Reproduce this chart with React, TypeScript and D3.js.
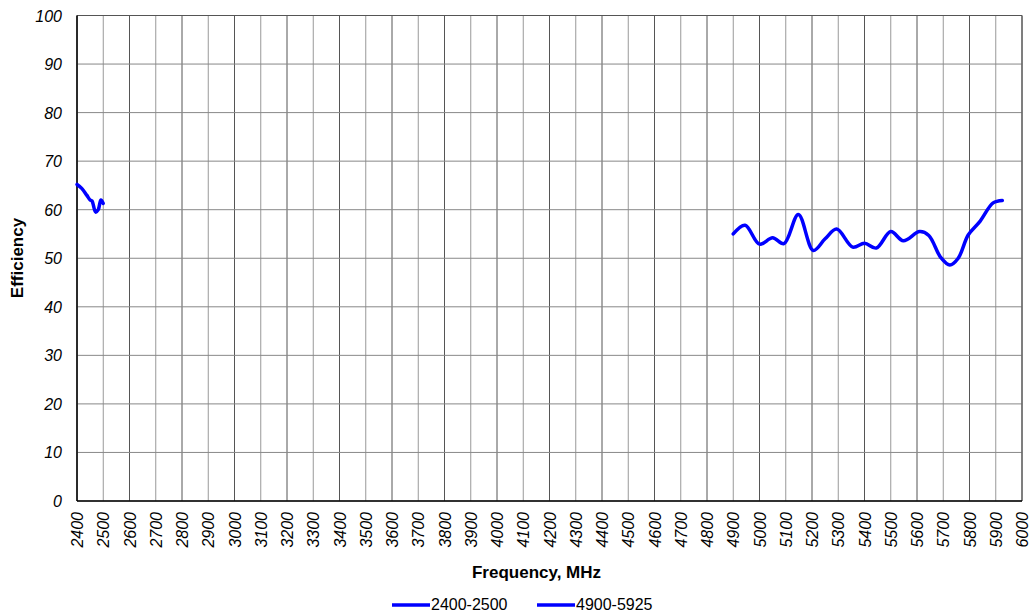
import React from "react";
import * as d3 from "d3";

const xTicks: number[] = d3.range(2400, 6001, 100);
const yTicks: number[] = [0, 10, 20, 30, 40, 50, 60, 70, 80, 90, 100];

const s1Freq: number[] = [2400, 2418, 2437, 2450, 2457, 2471, 2481, 2491, 2500];
const s1Eff: number[] = [65.2, 64.4, 63.0, 62.0, 61.8, 59.5, 60.0, 62.0, 61.3];

const s2Freq: number[] = [4900, 4945, 5000, 5050, 5093, 5148, 5205, 5250, 5294, 5355, 5400, 5445, 5500, 5548, 5610, 5645, 5690, 5725, 5757, 5795, 5840, 5890, 5925];
const s2Eff: number[] = [55.0, 56.8, 52.9, 54.2, 53.0, 59.0, 51.6, 54.0, 56.0, 52.3, 53.1, 52.1, 55.5, 53.6, 55.5, 54.7, 50.2, 48.6, 50.0, 54.8, 57.6, 61.4, 61.9];

const seriesNames: string[] = ["2400-2500", "4900-5925"];

const W = 1030;
const H = 613;
const M = { left: 77, right: 1022, top: 15.5, bottom: 501 };

export default function App() {
  const x = d3.scaleLinear().domain([2400, 6000]).range([M.left, M.right]);
  const y = d3.scaleLinear().domain([0, 100]).range([M.bottom, M.top]);
  const line = d3
    .line<[number, number]>()
    .x((d) => x(d[0]))
    .y((d) => y(d[1]))
    .curve(d3.curveCatmullRom.alpha(0.5));
  const s1 = s1Freq.map((f, i) => [f, s1Eff[i]] as [number, number]);
  const s2 = s2Freq.map((f, i) => [f, s2Eff[i]] as [number, number]);
  const font = "'Liberation Sans', Arial, sans-serif";
  const cx = (M.left + M.right) / 2;

  return (
    <svg width={W} height={H} style={{ position: "absolute", left: 0, top: 0 }} fontFamily={font}>
      <rect x={0} y={0} width={W} height={H} fill="#fff" />
      {xTicks.map((t) => (
        <line
          key={"gx" + t}
          x1={x(t)}
          x2={x(t)}
          y1={M.top}
          y2={M.bottom}
          stroke={t % 200 === 0 ? "#555" : "#999"}
          strokeWidth={1}
        />
      ))}
      {yTicks.map((t) => (
        <line key={"gy" + t} x1={M.left} x2={M.right} y1={y(t)} y2={y(t)} stroke="#888" strokeWidth={1} />
      ))}
      <line x1={M.left} x2={M.right} y1={M.top} y2={M.top} stroke="#555" strokeWidth={1} />
      <line x1={M.right} x2={M.right} y1={M.top} y2={M.bottom} stroke="#555" strokeWidth={1} />
      <line x1={M.left} x2={M.left} y1={M.top} y2={M.bottom} stroke="#000" strokeWidth={1.5} />
      <line x1={M.left} x2={M.right} y1={M.bottom} y2={M.bottom} stroke="#000" strokeWidth={1.5} />
      {yTicks.map((t) => (
        <text key={"yl" + t} x={62} y={y(t) + 6} textAnchor="end" fontSize={16} fontStyle="italic" fill="#000">
          {t}
        </text>
      ))}
      {xTicks.map((t) => (
        <text
          key={"xl" + t}
          transform={`translate(${x(t) + 6},${512}) rotate(-90)`}
          textAnchor="end"
          fontSize={16}
          fontStyle="italic"
          fill="#000"
        >
          {t}
        </text>
      ))}
      <path d={line(s1) || ""} fill="none" stroke="#0000FF" strokeWidth={3.5} strokeLinejoin="round" strokeLinecap="round" />
      <path d={line(s2) || ""} fill="none" stroke="#0000FF" strokeWidth={3.5} strokeLinejoin="round" strokeLinecap="round" />
      <text x={cx - 13} y={578} textAnchor="middle" fontSize={17} fontWeight="bold">
        Frequency, MHz
      </text>
      <text transform={`translate(23,258) rotate(-90)`} textAnchor="middle" fontSize={17} fontWeight="bold">
        Efficiency
      </text>
      {seriesNames.map((n, i) => {
        const lx = i === 0 ? 392 : 537;
        return (
          <g key={n}>
            <line x1={lx} x2={lx + 38} y1={605} y2={605} stroke="#0000FF" strokeWidth={3.5} />
            <text x={lx + 39} y={610} fontSize={16} fill="#000">
              {n}
            </text>
          </g>
        );
      })}
    </svg>
  );
}
